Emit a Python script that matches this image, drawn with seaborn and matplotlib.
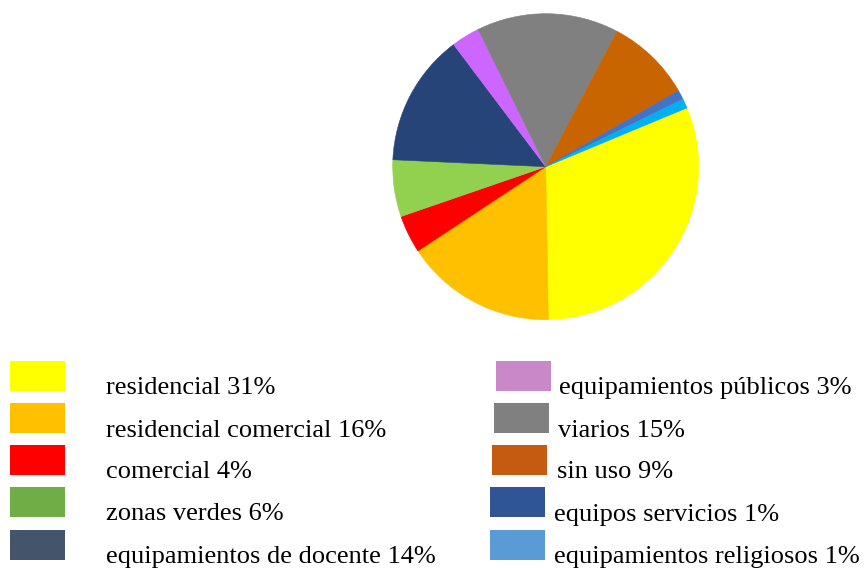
import seaborn as sns
import matplotlib.pyplot as plt
from matplotlib.patches import Rectangle

# data
labels = ["residencial", "residencial comercial", "comercial", "zonas verdes",
          "equipamientos de docente", "equipamientos públicos", "viarios",
          "sin uso", "equipos servicios", "equipamientos religiosos"]
shares = [31, 16, 4, 6, 14, 3, 15, 9, 1, 1]
pie_colors = ["#FFFF00", "#FFC000", "#FF0000", "#92D050", "#264478",
              "#CC66FF", "#808080", "#C96500", "#4472C4", "#00B0F0"]
legend_colors = ["#FFFF00", "#FFC000", "#FF0000", "#70AD47", "#44546A",
                 "#C988C8", "#808080", "#C55A11", "#2F5597", "#5B9BD5"]

sns.set_style("white")
plt.rcParams['font.family'] = ['Liberation Serif', 'DejaVu Serif']

W, H = 864, 568
fig = plt.figure(figsize=(W / 100, H / 100), dpi=100)

# pie placed in pixel terms: centre (546, 167), radius 153
cx, cy, r = 545.7, 166.7, 153
ax = fig.add_axes([(cx - r) / W, (H - cy - r) / H, 2 * r / W, 2 * r / H])
wedges, _ = ax.pie(shares, colors=pie_colors, startangle=22.6, counterclock=False,
                   radius=1, wedgeprops=dict(linewidth=0.4))
for w in wedges:
    w.set_edgecolor(w.get_facecolor())
ax.set_xlim(-1, 1)
ax.set_ylim(-1, 1)
ax.set_aspect("equal")
ax.axis("off")

# legend drawn by hand in figure pixels
box_tops = [361, 403, 445, 487, 530]
baselines = [394, 437, 478.5, 520.5, 563]
left_box_x = [10, 10, 10, 10, 10]
left_text_x = [106, 106, 106, 106, 106]
right_box_x = [496, 494, 492, 490, 490]
right_text_x = [559, 558, 557, 554, 554]

for i in range(10):
    row = i % 5
    if i < 5:
        bx, tx = left_box_x[row], left_text_x[row]
    else:
        bx, tx = right_box_x[row], right_text_x[row]
    top = box_tops[row]
    fig.patches.append(Rectangle((bx / W, 1 - (top + 30) / H), 55 / W, 30 / H,
                                 transform=fig.transFigure,
                                 facecolor=legend_colors[i], edgecolor="none"))
    fig.text(tx / W, 1 - baselines[row] / H, f"{labels[i]} {shares[i]}%",
             fontsize=19, va="baseline", ha="left", color="black")

fig.savefig("out.png", dpi=100)
